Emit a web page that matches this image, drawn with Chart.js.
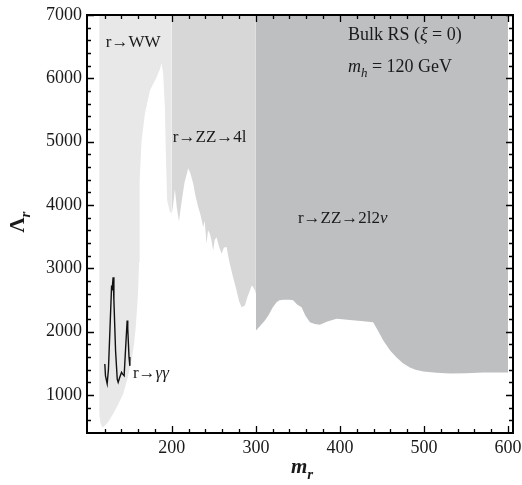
<!DOCTYPE html>
<html><head><meta charset="utf-8">
<script src="https://cdn.jsdelivr.net/npm/chart.js@4.4.1/dist/chart.umd.min.js"></script>
<style>html,body{margin:0;padding:0;background:#fff}canvas{display:block}</style>
</head><body>
<canvas id="c" width="522" height="485"></canvas>
<script>
// ---- tick labels ----
const xTickLabels = [200, 300, 400, 500, 600];
const yTickLabels = [1000, 2000, 3000, 4000, 5000, 6000, 7000];

// ---- r -> WW excluded region (lower boundary, filled to top) ----
const wwX = [113.5, 113.5, 115, 117, 119, 124, 130, 136, 142, 147, 152, 155, 157, 159, 160, 161, 161.5, 161.5, 162, 164, 168, 174, 182, 186, 187.7, 189.6, 191.7, 192.9, 194.4, 197.6, 200, 200];
const wwY = [7000, 700, 560, 490, 500, 570, 700, 850, 1015, 1250, 1540, 1800, 2070, 2450, 2700, 3100, 3400, 3870, 4390, 5020, 5450, 5810, 6020, 6150, 6240, 6080, 5550, 4760, 4070, 3890, 3870, 7000];

// ---- r -> ZZ -> 4l excluded region ----
const zz4lX = [200, 200, 201.5, 203.6, 206, 208.5, 211, 215, 219.5, 222, 225.4, 228, 231.3, 234, 237.3, 239, 241.3, 243, 245.2, 247, 249.2, 251, 253.2, 256, 259.2, 262, 265.1, 267, 269, 273, 277, 280, 283, 286.9, 290, 292.9, 295, 297, 298.8, 300, 300];
const zz4lY = [7000, 3870, 4000, 4250, 3950, 3740, 4000, 4350, 4580, 4500, 4340, 4150, 3970, 3850, 3650, 3750, 3390, 3600, 3550, 3450, 3280, 3450, 3490, 3350, 3230, 3330, 3335, 3200, 3070, 2850, 2650, 2480, 2385, 2412, 2550, 2650, 2729, 2700, 2650, 2600, 7000];

// ---- r -> ZZ -> 2l2nu excluded region ----
const zz2l2nX = [300, 300, 305, 310.7, 315, 320, 324.6, 328, 332.5, 340, 344.4, 349, 354.4, 359, 364.3, 370, 376.2, 385, 396.1, 412, 425, 439.6, 446, 451.6, 460, 467.5, 475, 483.3, 490, 499.2, 515, 531, 550, 570.6, 590, 600, 600];
const zz2l2nY = [7000, 2017, 2090, 2175, 2260, 2380, 2464, 2495, 2502, 2502, 2495, 2430, 2385, 2250, 2148, 2120, 2110, 2160, 2202, 2186, 2170, 2148, 2000, 1859, 1700, 1594, 1500, 1436, 1400, 1373, 1350, 1341, 1345, 1357, 1355, 1357, 7000];

// ---- r -> gamma gamma curve ----
const aaX = [120.2, 121, 123, 124.5, 126.5, 128.2, 129, 130.1, 131, 133, 135, 136.1, 138, 140.1, 141.5, 143.2, 145, 146.8, 147.5, 149, 150];
const aaY = [1490, 1300, 1180, 1400, 2100, 2700, 2680, 2860, 2500, 1700, 1250, 1200, 1280, 1357, 1330, 1305, 1750, 2175, 2050, 1600, 1460];

// ---- annotations (data coordinates) ----
const notes = [
  {x: 121.4, y: 6494, size: 17, segs: [['r→WW', 'n']]},
  {x: 201.2, y: 4991, size: 17, segs: [['r→ZZ→4l', 'n']]},
  {x: 350, y: 3710, size: 17, segs: [['r→ZZ→2l2', 'n'], ['ν', 'i']]},
  {x: 409.5, y: 6605, size: 18, segs: [['Bulk RS (', 'n'], ['ξ', 'i'], [' = 0)', 'n']]},
  {x: 409.5, y: 6098, size: 18, segs: [['m', 'i'], ['h', 'sub'], [' = 120 GeV', 'n']]},
  {x: 153.6, y: 1273, size: 17, segs: [['r→', 'n'], ['γγ', 'i']]}
];

const pts = (xs, ys) => xs.map((x, i) => ({x: x, y: ys[i]}));
const SERIF = '"Liberation Serif", "DejaVu Serif", serif';

function fontFor(style, size) {
  if (style === 'i') return 'italic ' + size + 'px ' + SERIF;
  if (style === 'sub') return 'italic ' + Math.round(size * 0.7) + 'px ' + SERIF;
  if (style === 'b') return 'bold ' + size + 'px ' + SERIF;
  if (style === 'bi') return 'bold italic ' + size + 'px ' + SERIF;
  if (style === 'bisub') return 'bold italic ' + Math.round(size * 0.7) + 'px ' + SERIF;
  return size + 'px ' + SERIF;
}
function drawRich(ctx, segs, x, y, size) {
  let cx = x;
  for (const [t, st] of segs) {
    ctx.font = fontFor(st, size);
    const dy = (st === 'sub' || st === 'bisub') ? size * 0.28 : 0;
    ctx.fillText(t, cx, y + dy);
    cx += ctx.measureText(t).width;
  }
  return cx - x;
}
function richWidth(ctx, segs, size) {
  let w = 0;
  for (const [t, st] of segs) { ctx.font = fontFor(st, size); w += ctx.measureText(t).width; }
  return w;
}

const framePlugin = {
  id: 'frame',
  afterDraw(chart) {
    const ctx = chart.ctx, a = chart.chartArea;
    const xs = chart.scales.x, ys = chart.scales.y;
    ctx.save();
    ctx.strokeStyle = '#000';
    ctx.lineWidth = 1.3;
    for (let v = 120; v <= 600; v += 20) {
      const px = Math.round(xs.getPixelForValue(v)) + 0.5;
      const L = (v % 100 === 0) ? 7 : 4;
      ctx.beginPath();
      ctx.moveTo(px, a.bottom); ctx.lineTo(px, a.bottom - L);
      ctx.moveTo(px, a.top); ctx.lineTo(px, a.top + L);
      ctx.stroke();
    }
    for (let v = 600; v <= 7000; v += 200) {
      const py = Math.round(ys.getPixelForValue(v)) + 0.5;
      const L = (v % 1000 === 0) ? 7 : 4;
      ctx.beginPath();
      ctx.moveTo(a.left, py); ctx.lineTo(a.left + L, py);
      ctx.moveTo(a.right, py); ctx.lineTo(a.right - L, py);
      ctx.stroke();
    }
    ctx.lineWidth = 2;
    ctx.strokeRect(a.left, a.top, a.right - a.left, a.bottom - a.top);

    ctx.fillStyle = '#1a1a1a';
    ctx.textBaseline = 'alphabetic';
    ctx.textAlign = 'left';
    for (const n of notes) {
      drawRich(ctx, n.segs, xs.getPixelForValue(n.x), ys.getPixelForValue(n.y), n.size);
    }
    const xt = [['m', 'bi'], ['r', 'bisub']];
    const xw = richWidth(ctx, xt, 21);
    drawRich(ctx, xt, (a.left + a.right) / 2 - xw / 2 + 2, 473, 21);
    ctx.translate(24, (a.top + a.bottom) / 2 - 2);
    ctx.rotate(-Math.PI / 2);
    const yt = [['Λ', 'b'], ['r', 'bisub']];
    const yw = richWidth(ctx, yt, 21);
    drawRich(ctx, yt, -yw / 2, 0, 21);
    ctx.restore();
  }
};

const tickFont = {family: SERIF, size: 18};
new Chart(document.getElementById('c'), {
  type: 'line',
  data: {
    datasets: [
      {label: 'r→γγ', data: pts(aaX, aaY), borderColor: '#111', borderWidth: 1.4, fill: false, pointRadius: 0, tension: 0},
      {label: 'r→WW', data: pts(wwX, wwY), borderWidth: 0, borderColor: 'rgba(0,0,0,0)', backgroundColor: '#e8e8e8', fill: 'end', pointRadius: 0, tension: 0},
      {label: 'r→ZZ→4l', data: pts(zz4lX, zz4lY), borderWidth: 0, borderColor: 'rgba(0,0,0,0)', backgroundColor: '#d7d7d7', fill: 'end', pointRadius: 0, tension: 0},
      {label: 'r→ZZ→2l2ν', data: pts(zz2l2nX, zz2l2nY), borderWidth: 0, borderColor: 'rgba(0,0,0,0)', backgroundColor: '#bebfc1', fill: 'end', pointRadius: 0, tension: 0}
    ]
  },
  options: {
    responsive: false,
    animation: false,
    devicePixelRatio: 1,
    layout: {padding: {left: 0, right: 9, top: 15, bottom: 0}},
    plugins: {legend: {display: false}, tooltip: {enabled: false}},
    scales: {
      x: {
        type: 'linear', min: 99, max: 606, position: 'bottom',
        grid: {display: false, drawTicks: false}, border: {display: false},
        ticks: {padding: 4, maxRotation: 0, minRotation: 0, autoSkip: false, font: tickFont, color: '#1a1a1a',
          callback: v => String(v)},
        afterBuildTicks(s) { s.ticks = xTickLabels.map(v => ({value: v})); },
        afterFit(s) { s.height = 52; s.paddingLeft = 0; s.paddingRight = 0; }
      },
      y: {
        type: 'linear', min: 400, max: 7000,
        grid: {display: false, drawTicks: false}, border: {display: false},
        ticks: {padding: 5, autoSkip: false, font: tickFont, color: '#1a1a1a',
          callback: v => String(v)},
        afterBuildTicks(s) { s.ticks = yTickLabels.map(v => ({value: v})); },
        afterFit(s) { s.width = 87; s.paddingTop = 0; s.paddingBottom = 0; }
      }
    }
  },
  plugins: [framePlugin]
});
</script>
</body></html>
